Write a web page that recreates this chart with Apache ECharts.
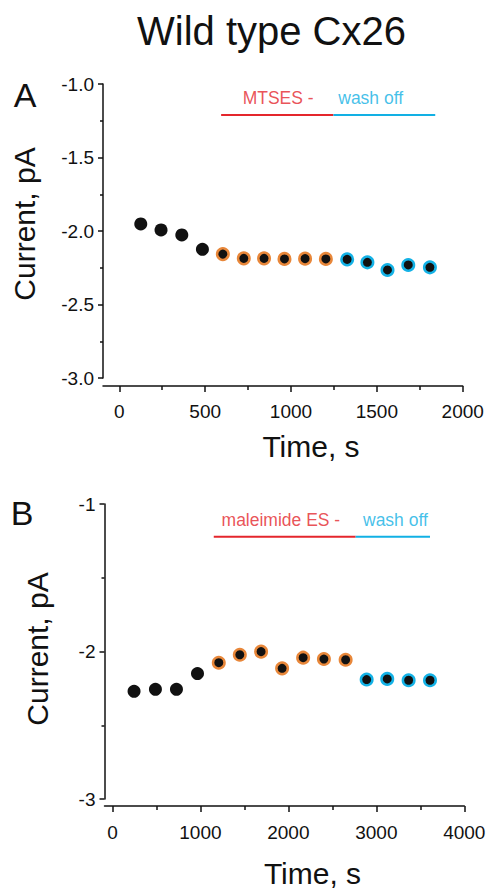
<!DOCTYPE html>
<html>
<head>
<meta charset="utf-8">
<script src="https://cdn.jsdelivr.net/npm/echarts@6/dist/echarts.min.js"></script>
<style>
html,body{margin:0;padding:0;background:#fff;}
#chart{width:494px;height:890px;}
</style>
</head>
<body>
<div id="chart"></div>
<script>
// ---------- DATA ----------
const titleText = 'Wild type Cx26';
const yName = 'Current, pA';
const xName = 'Time, s';

// Panel A
const timeA    = [125, 243, 364, 484, 603, 725, 843, 962, 1082, 1203, 1327, 1445, 1562, 1683, 1809];
const currentA = [-1.952, -1.993, -2.027, -2.125, -2.157, -2.186, -2.186, -2.190, -2.188, -2.190, -2.193, -2.213, -2.265, -2.231, -2.247];
const phaseA   = ['base','base','base','base','drug','drug','drug','drug','drug','drug','wash','wash','wash','wash','wash'];
const xTicksA      = [0, 500, 1000, 1500, 2000];
const xMinorTicksA = [250, 750, 1250, 1750];
const annotLabelsA = ['MTSES -', 'wash off'];
const annotStartA  = [593, 1247];
const annotEndA    = [1247, 1840];
const annotTextXA  = [925, 1464];
const annotLevelA  = -1.211;

// Panel B
const timeB    = [246, 489, 728, 967, 1209, 1448, 1690, 1929, 2168, 2404, 2651, 2890, 3124, 3367, 3610];
const currentB = [-2.270, -2.256, -2.256, -2.150, -2.076, -2.022, -2.001, -2.114, -2.042, -2.051, -2.056, -2.190, -2.186, -2.195, -2.195];
const phaseB   = ['base','base','base','base','drug','drug','drug','drug','drug','drug','drug','wash','wash','wash','wash'];
const xTicksB      = [0, 1000, 2000, 3000, 4000];
const xMinorTicksB = [500, 1500, 2500, 3500];
const annotLabelsB = ['maleimide ES -', 'wash off'];
const annotStartB  = [1152, 2765];
const annotEndB    = [2765, 3610];
const annotTextXB  = [1915, 3217];
const annotLevelB  = -1.222;

// ---------- STYLE ----------
const FONT = "Liberation Sans";
const INK = '#111';
const TICK_FS = 19;
const phaseColor = {base: null, drug: '#e8873a', wash: '#14b2e6'};
const annotColors = ['#e4262c', '#12b0e4'];
const tickRich = {t:{fontSize: TICK_FS, color: INK, fontFamily: FONT, lineHeight: TICK_FS}};

function pts(t, c, phase, which) {
  const out = [];
  for (let i = 0; i < t.length; i++) if (phase[i] === which) out.push([t[i], c[i]]);
  return out;
}

function panelSeries(gi, t, c, phase, labels, starts, ends, textX, level) {
  const s = [];
  s.push({type:'scatter', xAxisIndex: gi*2, yAxisIndex: gi, data: pts(t,c,phase,'base'),
    symbolSize: 13, itemStyle:{color:'#111', opacity:1}, silent:true, z:5});
  ['drug','wash'].forEach(ph => {
    s.push({type:'scatter', xAxisIndex: gi*2, yAxisIndex: gi, data: pts(t,c,phase,ph),
      symbolSize: 11.5, itemStyle:{color:'#111', borderColor: phaseColor[ph], borderWidth: 2.5, opacity:1}, silent:true, z:5});
  });
  for (let k = 0; k < labels.length; k++) {
    s.push({type:'line', xAxisIndex: gi*2, yAxisIndex: gi, data: [[starts[k], level],[ends[k], level]],
      symbol:'none', lineStyle:{color: annotColors[k], width: 2}, silent:true, z:3});
    s.push({type:'scatter', xAxisIndex: gi*2, yAxisIndex: gi, data: [[textX[k], level]],
      symbolSize: 0.1, itemStyle:{color:'rgba(0,0,0,0)'}, silent:true,
      label:{show:true, position:'top', distance: 8, formatter: labels[k],
        color: annotColors[k], fontSize: 17.5, fontFamily: FONT}});
  }
  return s;
}

function xAxes(gi, min, max, ticks, minor, offset, labelMargin) {
  return [
    {type:'value', gridIndex: gi, min, max, position:'bottom', offset,
      axisLine:{show:true, onZero:false, lineStyle:{color: INK, width: 1.5}},
      axisTick:{show:true, length: 6, customValues: ticks, lineStyle:{color: INK, width: 1.5}},
      axisLabel:{show:true, customValues: ticks, margin: labelMargin,
        fontSize: TICK_FS, color: INK, fontFamily: FONT, rich: tickRich,
        formatter: v => '{t|' + String(v) + '}'},
      splitLine:{show:false}},
    {type:'value', gridIndex: gi, min, max, position:'bottom', offset,
      axisLine:{show:false, onZero:false},
      axisTick:{show:true, length: 4, customValues: minor, lineStyle:{color: INK, width: 1.5}},
      axisLabel:{show:false},
      splitLine:{show:false}}
  ];
}

function yAxis(gi, interval, digits) {
  return {type:'value', gridIndex: gi, min: -3, max: -1, interval,
    axisLine:{show:true, onZero:false, lineStyle:{color: INK, width: 1.5}},
    axisTick:{show:true, length: 5, lineStyle:{color: INK, width: 1.5}},
    minorTick:{show:true, splitNumber: 2, length: 3, lineStyle:{color: INK, width: 1.5}},
    axisLabel:{show:true, margin: 9, fontSize: TICK_FS, color: INK, fontFamily: FONT, rich: tickRich,
      formatter: v => '{t|' + v.toFixed(digits) + '}'},
    splitLine:{show:false}, minorSplitLine:{show:false}};
}

const chart = echarts.init(document.getElementById('chart'), null, {renderer:'svg', width:494, height:890});
const option = {
  backgroundColor:'#fff',
  animation:false,
  textStyle:{fontFamily: FONT},
  grid:[
    {left:103, top:84, width:359.7, height:294},
    {left:104.5, top:504, width:359.8, height:295}
  ],
  xAxis:[].concat(
    xAxes(0, -95, 2000, xTicksA, xMinorTicksA, 8, 16),
    xAxes(1, -90, 4000, xTicksB, xMinorTicksB, 7, 17)
  ),
  yAxis:[ yAxis(0, 0.5, 1), yAxis(1, 1, 0) ],
  graphic:[
    {type:'text', x:271.5, y:31, style:{text:titleText, font:`40px ${FONT}`, fill:INK, align:'center', verticalAlign:'middle'}},
    {type:'text', x:25, y:95, style:{text:'A', font:`34px ${FONT}`, fill:INK, align:'center', verticalAlign:'middle'}},
    {type:'text', x:22, y:513, style:{text:'B', font:`34px ${FONT}`, fill:INK, align:'center', verticalAlign:'middle'}},
    {type:'text', x:24, y:224, rotation:Math.PI/2, style:{text:yName, font:`30px ${FONT}`, fill:INK, align:'center', verticalAlign:'middle'}},
    {type:'text', x:37, y:649, rotation:Math.PI/2, style:{text:yName, font:`30px ${FONT}`, fill:INK, align:'center', verticalAlign:'middle'}},
    {type:'text', x:311, y:446, style:{text:xName, font:`30px ${FONT}`, fill:INK, align:'center', verticalAlign:'middle'}},
    {type:'text', x:312.5, y:873, style:{text:xName, font:`30px ${FONT}`, fill:INK, align:'center', verticalAlign:'middle'}}
  ],
  series:[].concat(
    panelSeries(0, timeA, currentA, phaseA, annotLabelsA, annotStartA, annotEndA, annotTextXA, annotLevelA),
    panelSeries(1, timeB, currentB, phaseB, annotLabelsB, annotStartB, annotEndB, annotTextXB, annotLevelB)
  )
};
chart.setOption(option);
</script>
</body>
</html>
